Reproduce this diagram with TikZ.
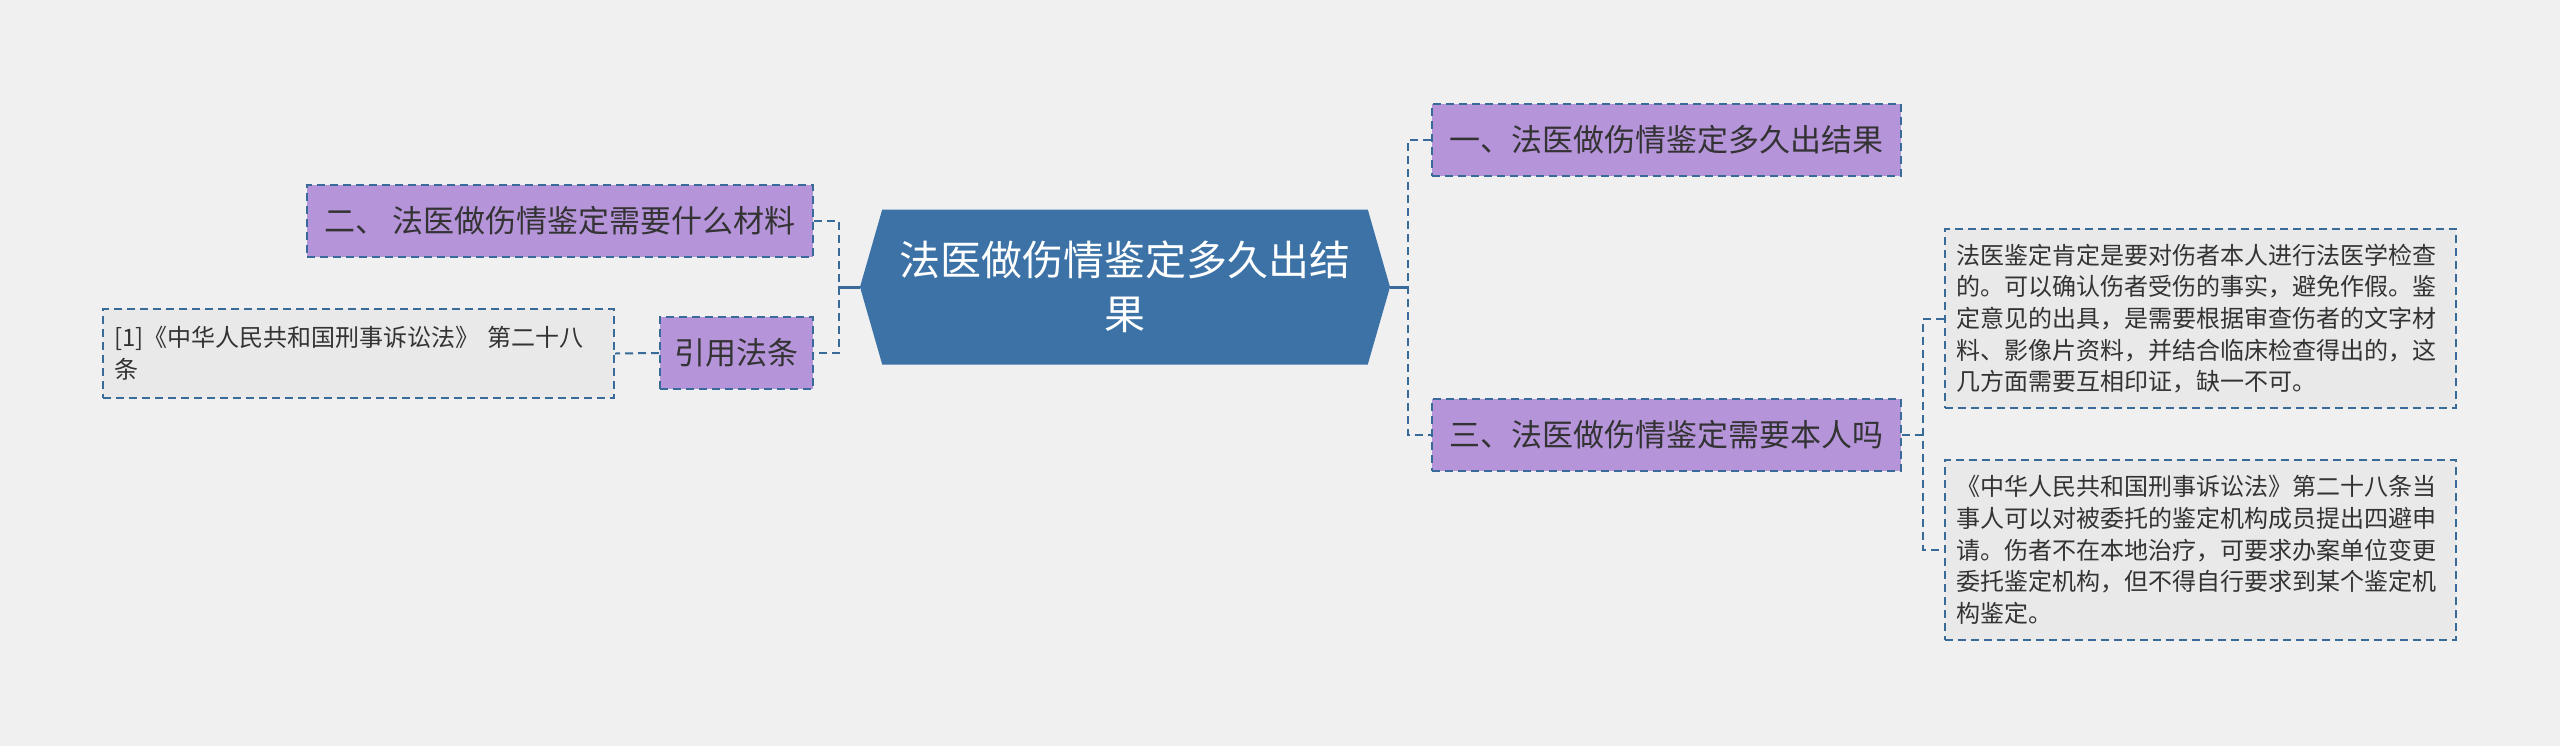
\documentclass[tikz,border=0pt]{standalone}
\usepackage{fontspec}
\setmainfont{Noto Sans CJK SC}
\usetikzlibrary{positioning,calc,shapes.symbols}
\definecolor{MapBlue}{HTML}{3C72A5}
\definecolor{MapPurple}{HTML}{B594DA}
\definecolor{MapLine}{HTML}{386A9A}
\definecolor{MapGrey}{HTML}{E9E9E9}
\definecolor{MapBack}{HTML}{F0F0F0}
\definecolor{MapText}{HTML}{333333}

\begin{document}
\begin{tikzpicture}[
    x=0.5pt, y=-0.5pt,
    topic/.style={
      draw=MapLine,
      dash pattern=on 4pt off 2.5pt,
      line width=1pt,
      fill=MapPurple,
      text=MapText,
      minimum height=36pt,
      inner sep=0pt,
      font=\fontsize{15.5}{18}\selectfont
    },
    note/.style={
      draw=MapLine,
      dash pattern=on 4pt off 2.5pt,
      line width=1pt,
      fill=MapGrey,
      text=MapText,
      inner ysep=0pt,
      inner xsep=5.5pt,
      text width=244.5pt,
      align=left,
      font=\fontsize{12}{15.8}\selectfont
    },
    link/.style={
      draw=MapLine,
      dash pattern=on 4pt off 2.5pt,
      line width=1pt
    },
    stub/.style={
      draw=MapLine,
      line width=1.5pt
    }
  ]

  % Canvas
  \fill[MapBack] (0,0) rectangle (2560,746);
  \useasboundingbox (0,0) rectangle (2560,746);

  % Central topic
  \node[signal, signal to=east and west, signal pointer angle=148,
        fill=MapBlue, text=white, align=center, inner sep=0pt,
        minimum width=265pt, minimum height=77.5pt,
        font=\fontsize{20.5}{27}\selectfont] (root) at (1125,287)
    {法医做伤情鉴定多久出结\\果};

  % Right branches
  \node[topic, minimum width=234.5pt] (one)   at (1666,140) {一、法医做伤情鉴定多久出结果};
  \node[topic, minimum width=234.5pt] (three) at (1666,435) {三、法医做伤情鉴定需要本人吗};

  % Left branches
  \node[topic, minimum width=253pt]  (two)  at (560,221)   {二、 法医做伤情鉴定需要什么材料};
  \node[topic, minimum width=76.5pt] (cite) at (736.5,353) {引用法条};

  % Notes
  \node[note, minimum height=44.5pt] (ref) at (358.5,353.5)
    {[1]《中华人民共和国刑事诉讼法》 第二十八\\条};
  \node[note, minimum height=89.5pt] (noteA) at (2200.5,318.5)
    {法医鉴定肯定是要对伤者本人进行法医学检查\\
     的。可以确认伤者受伤的事实，避免作假。鉴\\
     定意见的出具，是需要根据审查伤者的文字材\\
     料、影像片资料，并结合临床检查得出的，这\\
     几方面需要互相印证，缺一不可。};
  \node[note, minimum height=90pt] (noteB) at (2200.5,550)
    {《中华人民共和国刑事诉讼法》第二十八条当\\
     事人可以对被委托的鉴定机构成员提出四避申\\
     请。伤者不在本地治疗，可要求办案单位变更\\
     委托鉴定机构，但不得自行要求到某个鉴定机\\
     构鉴定。};

  % Connectors
  \coordinate (rj) at (1409,287);
  \coordinate (lj) at (838,287);
  \draw[stub] (root.east) -- (rj);
  \draw[stub] (root.west) -- (lj);
  \draw[link] (one.west) -- ++(-23,0) |- (three.west);
  \draw[link] (two.east) -- ++(25,0) |- (cite.east);
  \draw[link] (cite.west) -- (ref.east);
  \draw[link] (three.east) -- ++(23,0);
  \draw[link] (noteA.west) -- ++(-21,0) |- (noteB.west);

\end{tikzpicture}
\end{document}
